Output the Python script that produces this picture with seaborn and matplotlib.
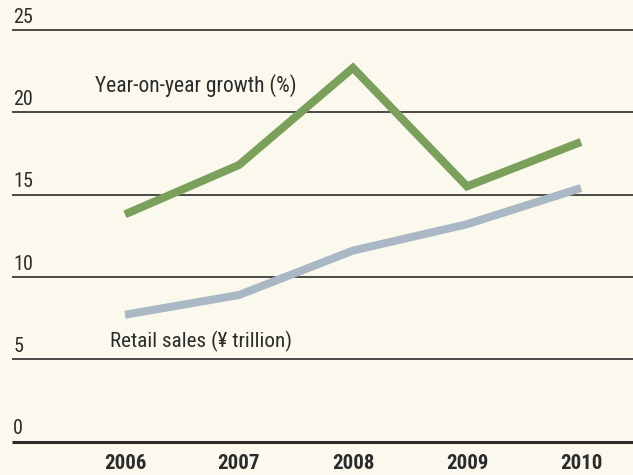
import matplotlib
matplotlib.use("Agg")
import matplotlib.pyplot as plt
import matplotlib.transforms as mtransforms
from matplotlib import font_manager
import pandas as pd
import seaborn as sns

# Data
years = ["2006", "2007", "2008", "2009", "2010"]
growth_pct = [13.8, 16.8, 22.7, 15.5, 18.2]
retail_sales = [7.7, 8.9, 11.6, 13.2, 15.4]
y_ticks = [0, 5, 10, 15, 20, 25]

BG = "#fbf9ee"
GREEN = "#7ba05c"
GREY = "#a9b8c4"
INK = "#2b2b2b"

sns.set_theme(style="white")
available = {f.name for f in font_manager.fontManager.ttflist}
narrow = [n for n in ["Liberation Sans Narrow", "Roboto Condensed",
                      "DejaVu Sans Condensed", "Open Sans Condensed",
                      "Roboto", "Liberation Sans"] if n in available]
plt.rcParams["font.family"] = narrow + ["DejaVu Sans"]
plt.rcParams["font.stretch"] = "condensed"

df = pd.DataFrame({
    "idx": list(range(len(years))) * 2,
    "value": growth_pct + retail_sales,
    "series": ["growth"] * len(years) + ["sales"] * len(years),
})

fig = plt.figure(figsize=(6.33, 4.75), dpi=100, facecolor=BG)
ax = fig.add_axes([12 / 633, (475 - 441.5) / 475, 621 / 633, (441.5 - 30) / 475])
ax.set_facecolor(BG)

# horizontal rules
for t in y_ticks[1:]:
    ax.axhline(t, color=INK, lw=1.2, zorder=1, clip_on=False)
ax.axhline(0, color=INK, lw=2.2, zorder=1, clip_on=False)

sns.lineplot(data=df, x="idx", y="value", hue="series",
             palette={"growth": GREEN, "sales": GREY},
             linewidth=5.8, legend=False, ax=ax, zorder=3)
for ln in ax.lines:
    ln.set_solid_joinstyle("miter")
    ln.set_solid_capstyle("butt")

ax.set_xlim(-0.991, 4.456)
ax.set_ylim(0, 25)
for s in ax.spines.values():
    s.set_visible(False)
ax.set_xlabel("")
ax.set_ylabel("")
ax.set_yticks([])
ax.set_xticks(range(len(years)))
ax.set_xticklabels(years, fontsize=15, fontweight="bold", color=INK)
ax.tick_params(axis="x", length=0, pad=9)

# value labels sitting above each rule
trans = mtransforms.blended_transform_factory(ax.transAxes, ax.transData)
for t in y_ticks:
    ax.text(0.002, t + 0.2, f"{t}", transform=trans, ha="left", va="bottom",
            fontsize=14.5, color=INK)

# series captions
ax.text(-0.263, 21.65, "Year-on-year growth (%)", fontsize=15.5, color=INK,
        ha="left", va="center")
ax.text(-0.131, 6.05, "Retail sales (¥ trillion)", fontsize=15.2, color=INK,
        ha="left", va="center")

fig.savefig("out.png", dpi=100, facecolor=BG)
